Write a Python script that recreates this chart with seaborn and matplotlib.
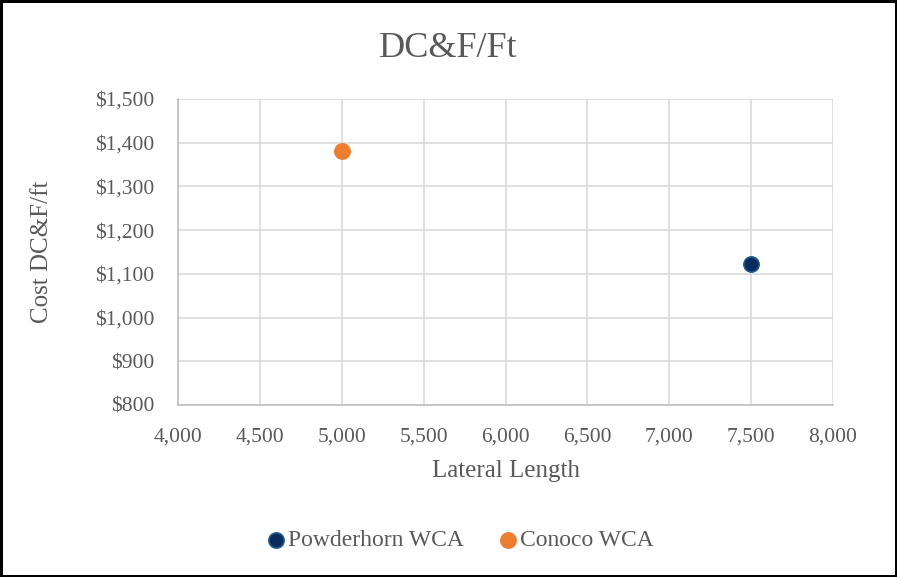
import pandas as pd
import seaborn as sns
import matplotlib.pyplot as plt
from matplotlib.ticker import FuncFormatter, MultipleLocator

# Data
series = ["Powderhorn WCA", "Conoco WCA"]
lateral_length = [7500, 5000]
cost_per_ft = [1123, 1382]
colors = {"Powderhorn WCA": "#0B2A5E", "Conoco WCA": "#ED7D31"}
edges = {"Powderhorn WCA": "#1F5C8C", "Conoco WCA": "#ED7D31"}

df = pd.DataFrame({"series": series, "lateral": lateral_length, "cost": cost_per_ft})

sns.set_style("white")
plt.rcParams["font.family"] = ["Liberation Serif", "DejaVu Serif"]
grey = "#595959"

fig = plt.figure(figsize=(8.97, 5.77), dpi=100)
fig.patch.set_edgecolor("black")
fig.patch.set_linewidth(2.5)
ax = fig.add_axes([0.1984, 0.2981, 0.7303, 0.5303])

for name in series:
    sub = df[df["series"] == name]
    sns.scatterplot(data=sub, x="lateral", y="cost", ax=ax, s=120,
                    color=colors[name], edgecolor=edges[name], linewidth=1.2,
                    label=name, zorder=3)

ax.set_xlim(4000, 8000)
ax.set_ylim(800, 1500)
ax.xaxis.set_major_locator(MultipleLocator(500))
ax.yaxis.set_major_locator(MultipleLocator(100))
ax.xaxis.set_major_formatter(FuncFormatter(lambda v, p: f"{v:,.0f}"))
ax.yaxis.set_major_formatter(FuncFormatter(lambda v, p: f"${v:,.0f}"))
ax.grid(True, color="#D9D9D9", linewidth=1.2)
ax.set_axisbelow(True)
for side in ["top", "right"]:
    ax.spines[side].set_visible(False)
for side in ["left", "bottom"]:
    ax.spines[side].set_color("#BFBFBF")
    ax.spines[side].set_linewidth(1.2)
ax.tick_params(colors=grey, labelsize=15.5, length=0)
ax.tick_params(axis="y", pad=17)
ax.tick_params(axis="x", pad=16)

ax.set_xlabel("Lateral Length", fontsize=18, color=grey, labelpad=10)
ax.set_ylabel("Cost DC&F/ft", fontsize=18, color=grey, labelpad=30)
fig.suptitle("DC&F/Ft", fontsize=26, color=grey, y=0.945)

ax.legend(loc="center", bbox_to_anchor=(0.505, 0.064), bbox_transform=fig.transFigure,
          ncol=2, frameon=False, fontsize=17, labelcolor=grey,
          handletextpad=-0.5, columnspacing=0.9, markerscale=1.0)

fig.savefig("out.png", dpi=100, edgecolor=fig.get_edgecolor())
